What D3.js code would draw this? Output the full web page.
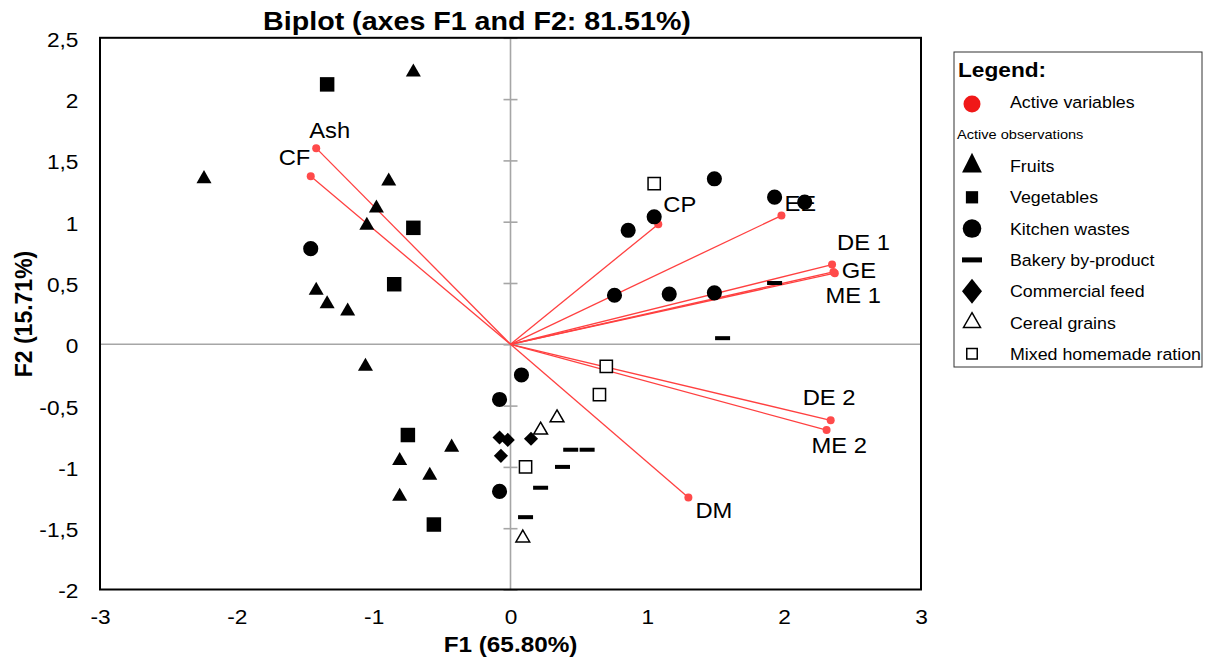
<!DOCTYPE html>
<html>
<head>
<meta charset="utf-8">
<script src="https://cdn.jsdelivr.net/npm/d3@7"></script>
<style>
  body { margin: 0; background: #fff; }
  svg { display: block; font-family: "Liberation Sans", Arial, sans-serif; }
</style>
</head>
<body>
<svg id="canvas" width="1205" height="661"></svg>
<script>
// active variables (F1, F2)
let varNames = ['Ash', 'CF', 'CP', 'EE', 'DE 1', 'GE', 'ME 1', 'DE 2', 'ME 2', 'DM'];
let varF1 = [-1.42, -1.46, 1.08, 1.98, 2.35, 2.37, 2.36, 2.34, 2.31, 1.30];
let varF2 = [1.60, 1.37, 0.98, 1.05, 0.65, 0.58, 0.59, -0.62, -0.70, -1.25];

// active observations, [F1, F2]
let fruits = [[-0.71, 2.22], [-2.24, 1.35], [-0.89, 1.33], [-0.98, 1.11], [-1.05, 0.97],
              [-1.42, 0.44], [-1.34, 0.33], [-1.19, 0.27], [-1.06, -0.18], [-0.43, -0.84],
              [-0.81, -0.95], [-0.59, -1.07], [-0.81, -1.24]];
let vegetables = [[-1.34, 2.12], [-0.71, 0.95], [-0.85, 0.49], [-0.75, -0.74], [-0.56, -1.47]];
let kitchen = [[-1.46, 0.78], [1.49, 1.35], [1.93, 1.20], [2.15, 1.16], [1.05, 1.04],
               [0.86, 0.93], [0.76, 0.40], [1.16, 0.41], [1.49, 0.42], [0.08, -0.25],
               [-0.08, -0.45], [-0.08, -1.20]];
let bakery = [[1.93, 0.50], [1.55, 0.05], [0.44, -0.86], [0.56, -0.86], [0.38, -1.00],
              [0.22, -1.17], [0.11, -1.41]];
let commercial = [[-0.08, -0.76], [-0.02, -0.78], [0.15, -0.77], [-0.07, -0.91]];
let cereal = [[0.34, -0.60], [0.22, -0.70], [0.09, -1.58]];
let mixed = [[1.05, 1.31], [0.70, -0.18], [0.65, -0.41], [0.11, -1.00]];

let xTicks = [-3, -2, -1, 0, 1, 2, 3];
let yTicks = [-2, -1.5, -1, -0.5, 0, 0.5, 1, 1.5, 2, 2.5];
let yTickLabels = ['-2', '-1,5', '-1', '-0,5', '0', '0,5', '1', '1,5', '2', '2,5'];

let groupNames = ['Fruits', 'Vegetables', 'Kitchen wastes', 'Bakery by-product',
                  'Commercial feed', 'Cereal grains', 'Mixed homemade ration'];

// label placement relative to each variable point (px)
let labelOffset = {
  'Ash': [-7, -10], 'CF': [-32, -11], 'CP': [5, -12], 'EE': [3, -5],
  'DE 1': [5, -15], 'GE': [7, 5], 'ME 1': [-8, 31],
  'DE 2': [-28, -15], 'ME 2': [-15, 23], 'DM': [7, 20]
};

let SX = 1.08; // text in the source is a bit wider than Liberation Sans
let svg = d3.select('#canvas');

let x = d3.scaleLinear().domain([-3, 3]).range([100, 921]);
let y = d3.scaleLinear().domain([-2, 2.5]).range([589.5, 37.8]);

function addText(g, px, py, str, size, weight, anchor) {
  return g.append('text')
    .attr('transform', 'translate(' + px + ',' + py + ') scale(' + SX + ',1)')
    .attr('font-size', size)
    .attr('font-weight', weight || 'normal')
    .attr('text-anchor', anchor || 'start')
    .attr('fill', '#000')
    .text(str);
}

// title
addText(svg, 477, 30, 'Biplot (axes F1 and F2: 81.51%)', 26.5, 'bold', 'middle');

// zero lines
svg.append('line')
  .attr('x1', x(-3)).attr('x2', x(3)).attr('y1', y(0)).attr('y2', y(0))
  .attr('stroke', '#a6a6a6').attr('stroke-width', 1.6);
svg.append('line')
  .attr('x1', x(0)).attr('x2', x(0)).attr('y1', y(-2)).attr('y2', y(2.5))
  .attr('stroke', '#a6a6a6').attr('stroke-width', 1.6);

// small ticks on the vertical zero line
let zeroTicks = svg.append('g')
  .attr('transform', 'translate(' + (x(0) - 7) + ',0)')
  .call(d3.axisRight(y).tickValues(yTicks).tickSize(14).tickFormat(''));
zeroTicks.select('.domain').remove();
zeroTicks.selectAll('line').attr('stroke', '#a6a6a6').attr('stroke-width', 1.6);

// tick labels
let yAxis = svg.append('g')
  .attr('transform', 'translate(' + x(-3) + ',0)')
  .call(d3.axisLeft(y).tickValues(yTicks).tickSize(0).tickPadding(20)
    .tickFormat((d, i) => yTickLabels[i]));
yAxis.select('.domain').remove();
yAxis.selectAll('text')
  .attr('font-size', 21).attr('font-family', null).attr('fill', '#000')
  .attr('dy', '0.4em')
  .attr('transform', 'scale(' + SX + ',1)');

let xAxis = svg.append('g')
  .attr('transform', 'translate(0,' + y(-2) + ')')
  .call(d3.axisBottom(x).tickValues(xTicks).tickSize(0).tickPadding(20)
    .tickFormat(d => String(d)));
xAxis.select('.domain').remove();
xAxis.selectAll('text')
  .attr('font-size', 21).attr('font-family', null).attr('fill', '#000')
  .attr('transform', 'scale(' + SX + ',1)');

// axis titles
addText(svg, x(0), 652, 'F1 (65.80%)', 22.5, 'bold', 'middle');
svg.append('text')
  .attr('transform', 'translate(32,314) rotate(-90)')
  .attr('font-size', 23).attr('font-weight', 'bold').attr('text-anchor', 'middle')
  .text('F2 (15.71%)');

// frame
svg.append('rect')
  .attr('x', x(-3)).attr('y', y(2.5))
  .attr('width', x(3) - x(-3)).attr('height', y(-2) - y(2.5))
  .attr('fill', 'none').attr('stroke', '#000').attr('stroke-width', 2);

// variable vectors
let vars = varNames.map((n, i) => ({ name: n, f1: varF1[i], f2: varF2[i] }));
svg.append('g').selectAll('line')
  .data(vars).enter().append('line')
  .attr('x1', x(0)).attr('y1', y(0))
  .attr('x2', d => x(d.f1)).attr('y2', d => y(d.f2))
  .attr('stroke', '#ff4040').attr('stroke-width', 1.3);
svg.append('g').selectAll('circle')
  .data(vars).enter().append('circle')
  .attr('cx', d => x(d.f1)).attr('cy', d => y(d.f2))
  .attr('r', 4).attr('fill', '#ff4a4a');
let varLabels = svg.append('g');
vars.forEach(d => {
  let o = labelOffset[d.name];
  addText(varLabels, x(d.f1) + o[0], y(d.f2) + o[1], d.name, 22);
});

// marker shapes
let tri = d3.symbol().type(d3.symbolTriangle);
let sq = d3.symbol().type(d3.symbolSquare);
let circ = d3.symbol().type(d3.symbolCircle);

let markers = [
  { data: fruits, path: tri.size(98)(), fill: '#000', stroke: 'none' },
  { data: vegetables, path: sq.size(210)(), fill: '#000', stroke: 'none' },
  { data: kitchen, path: circ.size(180)(), fill: '#000', stroke: 'none' },
  { data: commercial, path: sq.size(100)(), fill: '#000', stroke: 'none', rot: 45 },
  { data: cereal, path: tri.size(82)(), fill: '#fff', stroke: '#000' },
  { data: mixed, path: sq.size(150)(), fill: '#fff', stroke: '#000' }
];
let obs = svg.append('g');
markers.forEach(m => {
  obs.append('g').selectAll('path')
    .data(m.data).enter().append('path')
    .attr('d', m.path)
    .attr('transform', d => 'translate(' + x(d[0]) + ',' + y(d[1]) + ')' + (m.rot ? ' rotate(' + m.rot + ')' : ''))
    .attr('fill', m.fill).attr('stroke', m.stroke).attr('stroke-width', 1.5);
});
obs.append('g').selectAll('rect')
  .data(bakery).enter().append('rect')
  .attr('x', d => x(d[0]) - 7.5).attr('y', d => y(d[1]) - 2)
  .attr('width', 15).attr('height', 4).attr('fill', '#000');

// legend
let legend = svg.append('g');
legend.append('rect')
  .attr('x', 954).attr('y', 52).attr('width', 248).attr('height', 315)
  .attr('fill', '#fff').attr('stroke', '#333').attr('stroke-width', 1);
addText(legend, 958, 77, 'Legend:', 21, 'bold');
legend.append('circle').attr('cx', 972).attr('cy', 104).attr('r', 8.5).attr('fill', '#f01818');
addText(legend, 1010, 108, 'Active variables', 16.5);
addText(legend, 957, 139, 'Active observations', 13.5);

let legendShapes = [
  g => g.append('path').attr('d', tri.size(170)()).attr('transform', 'scale(1,1.15)').attr('fill', '#000'),
  g => g.append('path').attr('d', sq.size(150)()).attr('fill', '#000'),
  g => g.append('path').attr('d', circ.size(270)()).attr('fill', '#000'),
  g => g.append('rect').attr('x', -10).attr('y', -2.5).attr('width', 20).attr('height', 5).attr('fill', '#000'),
  g => g.append('path').attr('d', sq.size(200)()).attr('transform', 'scale(1,1.25) rotate(45)').attr('fill', '#000'),
  g => g.append('path').attr('d', tri.size(125)()).attr('fill', '#fff').attr('stroke', '#000').attr('stroke-width', 1.5),
  g => g.append('path').attr('d', sq.size(110)()).attr('fill', '#fff').attr('stroke', '#000').attr('stroke-width', 1.5)
];
let rows = legend.selectAll('g.item')
  .data(groupNames).enter().append('g')
  .attr('class', 'item')
  .attr('transform', (d, i) => 'translate(0,' + (172 + i * 31.3) + ')');
rows.each(function (d, i) {
  let row = d3.select(this);
  legendShapes[i](row.append('g').attr('transform', 'translate(972,-6)'));
  addText(row, 1010, 0, d, 16.5);
});
</script>
</body>
</html>
